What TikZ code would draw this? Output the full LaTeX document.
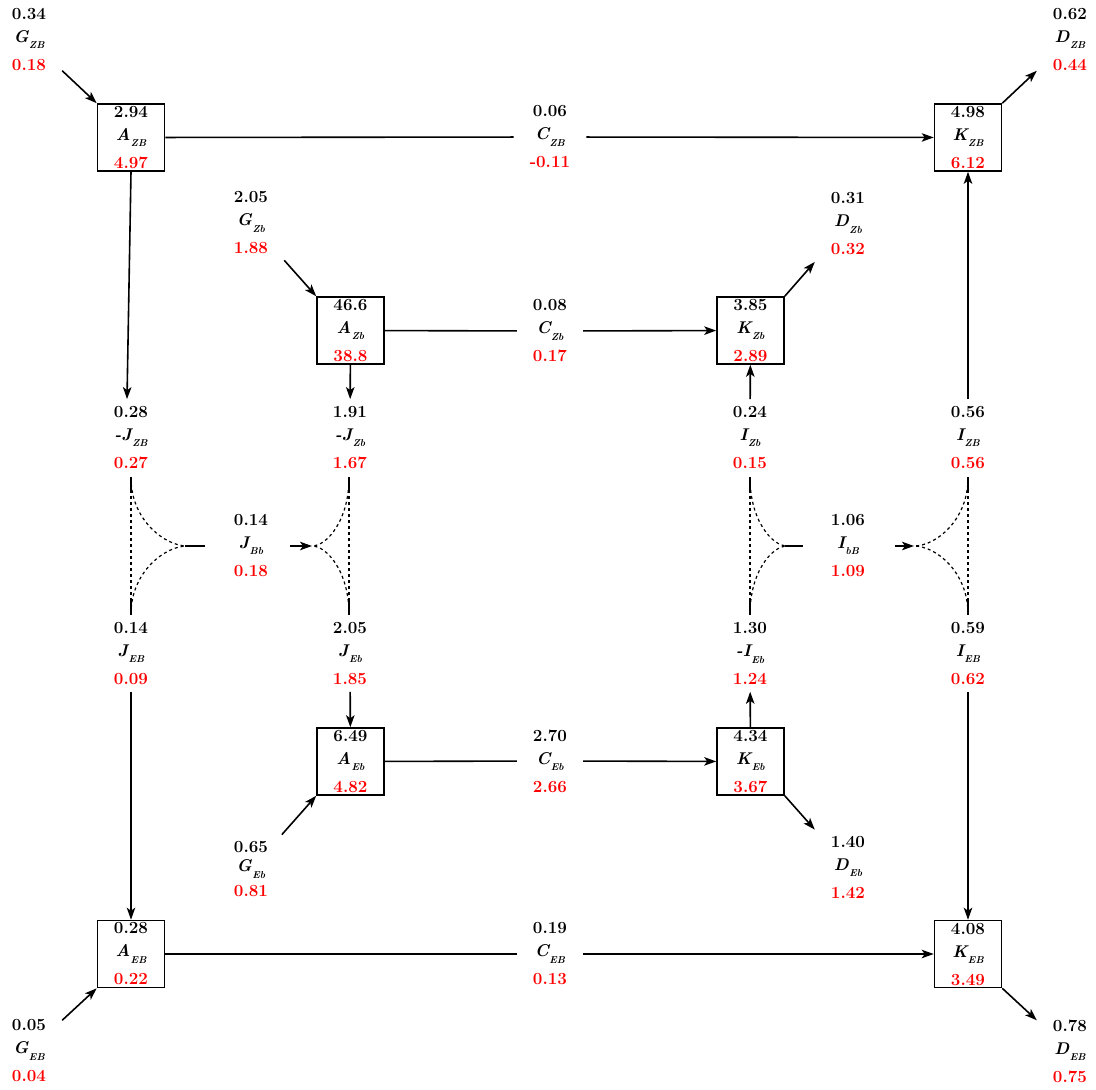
\documentclass[tikz,border=0pt]{standalone}
\usepackage{fontspec}
\usetikzlibrary{arrows.meta}
\newcommand{\trip}[4]{#1\\{\itshape #2}\kern0.5pt\raisebox{-6.5pt}{\fontsize{10}{10}\selectfont\itshape #3}\\[5pt]\textcolor{red}{#4}}
\begin{document}
\begin{tikzpicture}[x=1pt,y=-1pt,
  every node/.style={font=\fontsize{17}{23}\selectfont\bfseries\addfontfeatures{FakeBold=2.5}},
  box/.style={draw,line width=1.6pt,minimum width=67pt,minimum height=67pt,inner sep=0pt,align=center},
  lbl/.style={inner xsep=16pt,inner ysep=7pt,align=center},
  arr/.style={line width=1.6pt,-{Stealth[length=12pt,width=8.5pt,inset=3pt]}},
  ln/.style={line width=1.6pt},
  dsh/.style={line width=1.2pt,dash pattern=on 3pt off 3pt},
  stub/.style={line width=2.4pt},
]
\useasboundingbox (0,0) rectangle (1096,1090);

% boxes
\node[box] (AZB) at (131,137.5) {\trip{2.94}{A}{ZB}{4.97}};
\node[box] (KZB) at (968,137.5) {\trip{4.98}{K}{ZB}{6.12}};
\node[box] (AZb) at (350.5,330.5) {\trip{46.6}{A}{Zb}{38.8}};
\node[box] (KZb) at (750.5,330.5) {\trip{3.85}{K}{Zb}{2.89}};
\node[box] (AEb) at (350.5,761.5) {\trip{6.49}{A}{Eb}{4.82}};
\node[box] (KEb) at (750.5,761.5) {\trip{4.34}{K}{Eb}{3.67}};
\node[box] (AEB) at (131,954) {\trip{0.28}{A}{EB}{0.22}};
\node[box] (KEB) at (968,954) {\trip{4.08}{K}{EB}{3.49}};

% labels
\node[lbl] (GZB) at (29,39.5) {\trip{0.34}{G}{ZB}{0.18}};
\node[lbl] (DZB) at (1070,39.5) {\trip{0.62}{D}{ZB}{0.44}};
\node[lbl] (CZB) at (550,137) {\trip{0.06}{C}{ZB}{-0.11}};
\node[lbl] (GZb) at (251,223) {\trip{2.05}{G}{Zb}{1.88}};
\node[lbl] (DZb) at (848,224) {\trip{0.31}{D}{Zb}{0.32}};
\node[lbl] (CZb) at (550,331) {\trip{0.08}{C}{Zb}{0.17}};
\node[lbl] (mJZB) at (131,437.5) {\trip{0.28}{-J}{ZB}{0.27}};
\node[lbl] (mJZb) at (350,437.5) {\trip{1.91}{-J}{Zb}{1.67}};
\node[lbl] (IZb) at (750,437.5) {\trip{0.24}{I}{Zb}{0.15}};
\node[lbl] (IZB) at (968,437.5) {\trip{0.56}{I}{ZB}{0.56}};
\node[lbl] (JBb) at (251,545.5) {\trip{0.14}{J}{Bb}{0.18}};
\node[lbl] (IbB) at (848,545.5) {\trip{1.06}{I}{bB}{1.09}};
\node[lbl] (JEB) at (131,653.5) {\trip{0.14}{J}{EB}{0.09}};
\node[lbl] (JEb) at (350,653.5) {\trip{2.05}{J}{Eb}{1.85}};
\node[lbl] (mIEb) at (750,653.5) {\trip{1.30}{-I}{Eb}{1.24}};
\node[lbl] (IEB) at (968,653.5) {\trip{0.59}{I}{EB}{0.62}};
\node[lbl] (CEb) at (550,761) {\trip{2.70}{C}{Eb}{2.66}};
\node[lbl] (GEb) at (251,869.5) {0.65\\[-4pt]{\itshape G}\kern0.5pt\raisebox{-6.5pt}{\fontsize{10}{10}\selectfont\itshape Eb}\\[2pt]\textcolor{red}{0.81}};
\node[lbl] (DEb) at (848,867) {\trip{1.40}{D}{Eb}{1.42}};
\node[lbl] (CEB) at (550,954) {\trip{0.19}{C}{EB}{0.13}};
\node[lbl] (GEB) at (29,1051) {\trip{0.05}{G}{EB}{0.04}};
\node[lbl] (DEB) at (1070,1051) {\trip{0.78}{D}{EB}{0.75}};

% top row
\draw[arr] (GZB) -- (AZB.north west);
\draw[ln] (AZB) -- (CZB);
\draw[arr] (CZB) -- (KZB);
\draw[arr] (KZB.north east) -- (DZB);
\draw[arr] (AZB.south) -- ([xshift=-4pt]mJZB.north);
\draw[arr] (IZB) -- (KZB);

% second row
\draw[arr] (GZb) -- (AZb.north west);
\draw[ln] (AZb) -- (CZb);
\draw[arr] (CZb) -- (KZb);
\draw[arr] (KZb.north east) -- (DZb);
\draw[arr] (AZb) -- (mJZb);
\draw[arr] (IZb) -- (KZb);

% third row
\draw[arr] (JEb) -- (AEb);
\draw[arr] (KEb) -- (mIEb);
\draw[arr] (GEb) -- (AEb.south west);
\draw[ln] (AEb) -- (CEb);
\draw[arr] (CEb) -- (KEb);
\draw[arr] (KEb.south east) -- (DEb);

% bottom row
\draw[arr] (JEB) -- (AEB);
\draw[arr] (IEB) -- (KEB);
\draw[arr] (GEB) -- (AEB.south west);
\draw[ln] (AEB) -- (CEB);
\draw[arr] (CEB) -- (KEB);
\draw[arr] (KEB.south east) -- (DEB);

% J structure
\coordinate (jLt) at (131,478);
\coordinate (jLb) at (131,614);
\coordinate (jLm) at (187,546);
\coordinate (jLe) at (205,546);
\coordinate (jRt) at (349,478);
\coordinate (jRb) at (349,614);
\coordinate (jRm) at (312,546);
\coordinate (jRa) at (290,546);
\draw[dsh] (jLt) -- (jLb);
\draw[dsh] (jLt) .. controls (131,520) and (165,546) .. (jLm);
\draw[dsh] (jLb) .. controls (131,572) and (165,546) .. (jLm);
\draw[stub] (131,477) -- (131,492) (131,600) -- (131,615) (185,546) -- (jLe);
\draw[dsh] (jRt) -- (jRb);
\draw[dsh] (jRt) .. controls (349,520) and (327,546) .. (jRm);
\draw[dsh] (jRb) .. controls (349,572) and (327,546) .. (jRm);
\draw[stub] (349,477) -- (349,492) (349,600) -- (349,615);
\draw[arr] (jRa) -- (jRm);

% I structure
\coordinate (iLt) at (750,478);
\coordinate (iLb) at (750,614);
\coordinate (iLm) at (787,546);
\coordinate (iLe) at (803,546);
\coordinate (iRt) at (968,478);
\coordinate (iRb) at (968,614);
\coordinate (iRm) at (914,546);
\coordinate (iRa) at (895,546);
\draw[dsh] (iLt) -- (iLb);
\draw[dsh] (iLt) .. controls (750,520) and (772,546) .. (iLm);
\draw[dsh] (iLb) .. controls (750,572) and (772,546) .. (iLm);
\draw[stub] (750,477) -- (750,492) (750,600) -- (750,615) (785,546) -- (iLe);
\draw[dsh] (iRt) -- (iRb);
\draw[dsh] (iRt) .. controls (968,520) and (936,546) .. (iRm);
\draw[dsh] (iRb) .. controls (968,572) and (936,546) .. (iRm);
\draw[stub] (968,477) -- (968,492) (968,600) -- (968,615);
\draw[arr] (iRa) -- (iRm);
\end{tikzpicture}
\end{document}
